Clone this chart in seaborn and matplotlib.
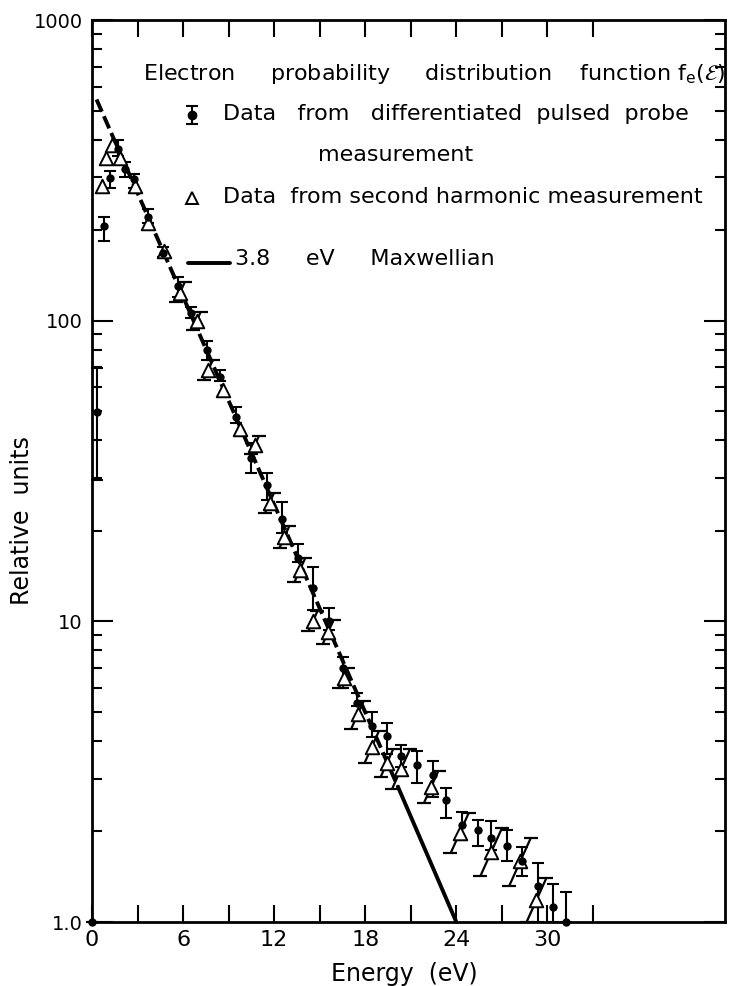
import numpy as np
import pandas as pd
import matplotlib
matplotlib.use("Agg")
import matplotlib.pyplot as plt
import seaborn as sns

# ---------------- data ----------------
# Data from differentiated pulsed probe measurement (filled circles)
probe_energy = [0.0, 0.31, 0.81, 1.19, 1.73, 2.18, 2.79, 3.71, 4.70, 5.69, 6.53,
                7.60, 8.44, 9.47, 10.46, 11.52, 12.54, 13.56, 14.59, 15.58, 16.53,
                17.45, 18.44, 19.43, 20.37, 21.40, 22.46, 23.34, 24.37, 25.40,
                26.30, 27.34, 28.33, 29.35, 30.34, 31.25]
probe_value = [1.0, 49.5, 206, 298, 373, 320, 295, 222, 168, 130, 106,
               79.6, 65.0, 47.8, 34.9, 28.3, 21.9, 16.2, 12.9, 10.0, 6.99,
               5.37, 4.49, 4.14, 3.57, 3.33, 3.08, 2.55, 2.10, 2.02,
               1.90, 1.79, 1.59, 1.32, 1.12, 1.0]
probe_low = [1.0, 29.6, 184, 276, 352, 301, 277, 212, 163, 120, 102,
             74.2, 62.8, 45.5, 31.2, 25.4, 19.7, 15.7, 10.9, 9.37, 6.01,
             5.23, 4.13, 3.62, 3.28, 2.90, 2.61, 2.22, 1.87, 1.79,
             1.74, 1.59, 1.42, 1.0, 1.0, 1.0]
probe_high = [1.0, 69.7, 222, 314, 400, 336, 308, 236, 176, 140, 111,
              85.3, 68.3, 51.7, 39.3, 31.2, 25.0, 18.1, 15.2, 11.1, 7.62,
              5.78, 5.00, 4.59, 3.88, 3.71, 3.44, 2.79, 2.32, 2.19,
              2.17, 2.02, 1.78, 1.57, 1.34, 1.26]

# Data from second harmonic measurement (open triangles)
harm_energy = [0.64, 0.90, 1.30, 1.85, 2.83, 3.71, 4.77, 5.80, 6.90, 7.67,
               8.66, 9.74, 10.72, 11.70, 12.68, 13.69, 14.55, 15.55, 16.57,
               17.50, 18.44, 19.43, 20.35, 22.35, 24.21, 26.30, 28.21, 29.27]
harm_value = [280, 348, 385, 348, 280, 211, 170, 124, 100, 68.7,
              58.9, 43.6, 38.5, 24.8, 19.1, 14.8, 10.0, 9.2, 6.5,
              4.9, 3.83, 3.38, 3.22, 2.82, 1.97, 1.71, 1.59, 1.18]
harm_low = [280, 348, 385, 348, 280, 211, 170, 115, 93.4, 63.6,
            58.9, 43.6, 36.0, 23.0, 17.6, 13.5, 9.26, 8.4, 6.0,
            4.4, 3.39, 3.04, 2.76, 2.49, 1.69, 1.42, 1.32, 1.0]
harm_high = [280, 348, 385, 348, 280, 211, 170, 134, 107, 74.2,
             58.9, 43.6, 41.2, 26.8, 20.8, 16.2, 10.8, 10.1, 7.0,
             5.45, 4.33, 3.76, 3.75, 3.19, 2.30, 2.06, 1.91, 1.40]

# 3.8 eV Maxwellian (dashed part, then solid part)
maxwell_dash_energy = [0.3, 20.15]
maxwell_dash_value = [544, 2.82]
maxwell_solid_energy = [20.15, 24.0]
maxwell_solid_value = [2.82, 1.0]

x_major = [0, 6, 12, 18, 24, 30]
x_major_labels = ["0", "6", "12", "18", "24", "30"]
x_minor = [3, 9, 15, 21, 27, 33]
y_major = [1, 10, 100, 1000]
y_major_labels = ["1.0", "10", "100", "1000"]

title_words = ["Electron", "probability", "distribution",
               r"function f$_\mathrm{e}$($\mathcal{E}$)"]
legend_probe_words = ["Data", "from", "differentiated", "pulsed", "probe"]
legend_probe2 = "measurement"
legend_harm_words = ["Data", "from", "second", "harmonic", "measurement"]
legend_line_words = ["3.8", "eV", "Maxwellian"]

# ---------------- style ----------------
sns.set_style("ticks")
plt.rcParams["font.family"] = ["DejaVu Sans"]
plt.rcParams["mathtext.fontset"] = "dejavusans"
for k in ["text.color", "axes.labelcolor", "xtick.color", "ytick.color", "axes.edgecolor"]:
    plt.rcParams[k] = "black"

X_MAX = 41.7
fig = plt.figure(figsize=(7.32, 9.86), dpi=100)
ax = fig.add_axes([92 / 732, 64 / 986, 633 / 732, 902 / 986])
ax.set_yscale("log")
ax.set_xlim(0, X_MAX)
ax.set_ylim(1, 1000)

probe_df = pd.DataFrame({"energy": probe_energy, "value": probe_value,
                         "low": probe_low, "high": probe_high})
harm_df = pd.DataFrame({"energy": harm_energy, "value": harm_value,
                        "low": harm_low, "high": harm_high})

# Maxwellian line
sns.lineplot(x=maxwell_dash_energy, y=maxwell_dash_value, ax=ax, color="black",
             lw=2.8, linestyle=(0, (3.4, 1.3)), solid_capstyle="butt")
sns.lineplot(x=maxwell_solid_energy, y=maxwell_solid_value, ax=ax, color="black",
             lw=2.8, clip_on=False)

# circle error bars
ax.errorbar(probe_df["energy"], probe_df["value"],
            yerr=[probe_df["value"] - probe_df["low"], probe_df["high"] - probe_df["value"]],
            fmt="none", ecolor="black", elinewidth=1.5, capsize=4.2, capthick=1.5,
            clip_on=False)
sns.scatterplot(data=probe_df, x="energy", y="value", ax=ax, marker="o", s=36,
                color="black", edgecolor="black", linewidth=0, zorder=5, clip_on=False)

# slanted error bars for the triangles
bbox = ax.get_window_extent(fig.canvas.get_renderer())
px_per_ev = bbox.width / X_MAX
px_per_dec = bbox.height / 3.0
SLANT = 0.45
CAP_PX = 7.0
for e, v, lo, hi in zip(harm_energy, harm_value, harm_low, harm_high):
    if hi <= lo:
        continue
    d_lo = (np.log10(v) - np.log10(lo)) * px_per_dec
    d_hi = (np.log10(hi) - np.log10(v)) * px_per_dec
    x0 = e - SLANT * d_lo / px_per_ev
    x1 = e + SLANT * d_hi / px_per_ev
    c = CAP_PX / px_per_ev
    kw = dict(color="black", lw=1.6, clip_on=False, solid_capstyle="butt", zorder=3)
    ax.plot([x0, x1], [lo, hi], **kw)
    ax.plot([x0 - c, x0 + c], [lo, lo], **kw)
    ax.plot([x1 - c, x1 + c], [hi, hi], **kw)

sns.scatterplot(data=harm_df, x="energy", y="value", ax=ax, marker="^", s=95,
                facecolor="white", edgecolor="black", linewidth=1.4, zorder=4)

ax.set_xlim(0, X_MAX)
ax.set_ylim(1, 1000)

# ---------------- axes / ticks ----------------
ax.set_xticks(x_major)
ax.set_xticklabels(x_major_labels)
ax.set_xticks(x_minor, minor=True)
ax.set_yticks(y_major)
ax.set_yticklabels(y_major_labels)
ax.set_yticks([m * 10 ** k for k in range(3) for m in range(2, 10)], minor=True)
ax.yaxis.set_minor_formatter(matplotlib.ticker.NullFormatter())
ax.tick_params(which="both", direction="in", top=True, right=True,
               width=1.5, color="black")
ax.tick_params(axis="x", which="both", length=12, labelsize=16, pad=6)
ax.tick_params(axis="y", which="major", length=15, labelsize=14, pad=6.5)
ax.tick_params(axis="y", which="minor", length=7)
for sp in ax.spines.values():
    sp.set_visible(True)
    sp.set_linewidth(2.0)
    sp.set_color("black")

ax.set_xlabel("Energy  (eV)", fontsize=17)
ax.set_ylabel("Relative  units", fontsize=17)
ax.xaxis.set_label_coords((404 - 92) / 633, (922 - 962) / 902)
ax.yaxis.set_label_coords((34 - 92) / 633, (922 - 521) / 902)

# ---------------- in-plot legend ----------------
def axx(px):
    return (px - 92) / 633


def axy(py):
    return (922 - py) / 902


FS = 16
renderer = fig.canvas.get_renderer()


def spaced_text(x0_px, x1_px, y_px, words):
    """One text line; word gaps widened to span the reference width."""
    gaps = [1] * (len(words) - 1)
    t = ax.text(axx(x0_px), axy(y_px), "", transform=ax.transAxes, fontsize=FS,
                ha="left", va="center", clip_on=False)

    def build():
        return "".join(w + " " * g for w, g in zip(words, gaps + [0]))

    target = x1_px - x0_px
    best = None
    for _ in range(40):
        t.set_text(build())
        w = t.get_window_extent(renderer).width
        if best is None or abs(w - target) < best[0]:
            best = (abs(w - target), list(gaps))
        if w >= target or not gaps:
            break
        i = min(range(len(gaps)), key=lambda j: (gaps[j], j))
        gaps[i] += 1
    gaps[:] = best[1]
    t.set_text(build())
    return t


spaced_text(143, 726, 74, title_words)
spaced_text(223, 691, 114, legend_probe_words)
ax.text(axx(318), axy(155), legend_probe2, transform=ax.transAxes, fontsize=FS,
        ha="left", va="center")
spaced_text(223, 706, 197, legend_harm_words)
spaced_text(235, 498, 259, legend_line_words)

ax.errorbar([axx(192)], [axy(115)], yerr=[[0.0095], [0.0095]], fmt="o", ms=6,
            color="black", ecolor="black", elinewidth=1.5, capsize=4.2, capthick=1.5,
            transform=ax.transAxes)
ax.plot([axx(192)], [axy(198)], marker="^", ms=8, mfc="white", mec="black",
        mew=1.4, transform=ax.transAxes)
ax.plot([axx(188), axx(230)], [axy(263), axy(263)], color="black", lw=2.8,
        transform=ax.transAxes)

fig.savefig("out.png", dpi=100)
